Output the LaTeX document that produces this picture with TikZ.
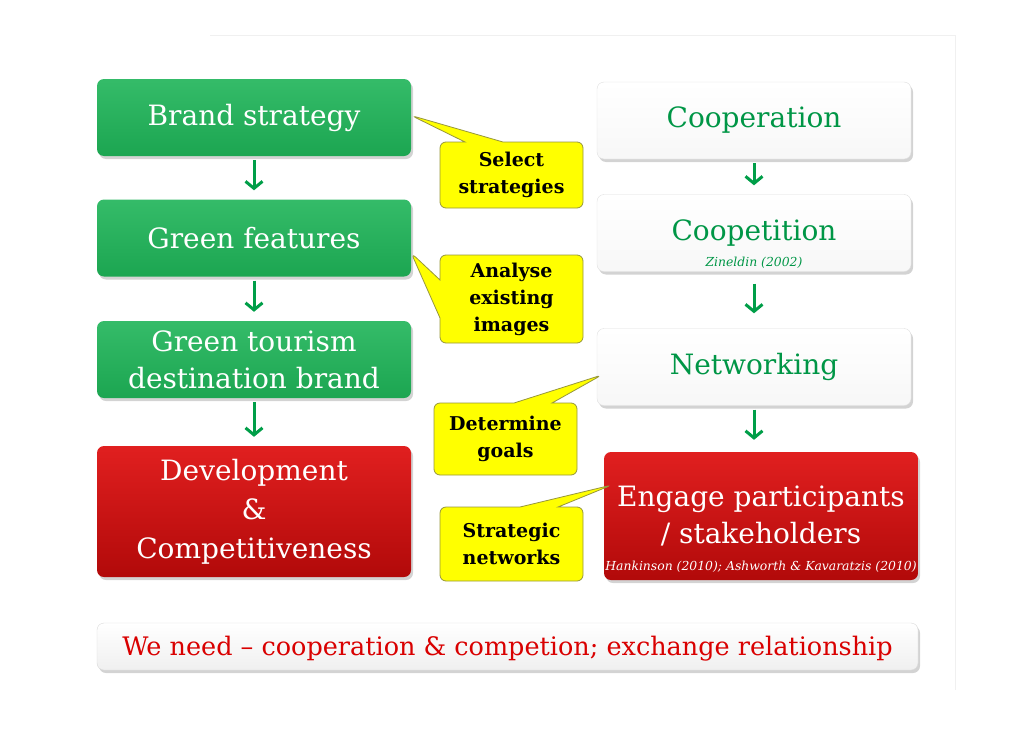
\documentclass[tikz,border=0pt]{standalone}
\usepackage{fontspec}
\setmainfont{DejaVu Serif}
\usetikzlibrary{arrows.meta,shapes.callouts,shadows,positioning}

\definecolor{boxgreen}{RGB}{30,180,88}
\definecolor{boxred}{RGB}{222,12,12}
\definecolor{arrgreen}{RGB}{0,158,72}
\definecolor{txtgreen}{RGB}{0,150,70}
\definecolor{noteyellow}{RGB}{255,255,0}
\definecolor{noteline}{RGB}{150,150,60}

\tikzset{
  stepbox/.style={rectangle, rounded corners=7pt, minimum width=314pt, minimum height=77pt,
    align=center, font=\fontsize{28}{38}\selectfont,
    drop shadow={opacity=0.35, shadow xshift=2pt, shadow yshift=-3pt}},
  greenbox/.style={stepbox, text=white, top color=boxgreen!90!white, bottom color=boxgreen!92!black},
  redbox/.style={stepbox, text=white, top color=boxred!92!white, bottom color=boxred!80!black},
  whitebox/.style={stepbox, text=txtgreen, draw=gray!25, top color=white, bottom color=gray!6},
  note/.style={rectangle callout, rounded corners=6pt, fill=noteyellow, draw=noteline, line width=0.8pt,
    minimum width=143pt, align=center, callout pointer width=38pt,
    font=\bfseries\fontsize{19}{27}\selectfont},
  flow/.style={arrgreen, line width=3pt, -{Straight Barb[length=7pt,width=17pt]},
    shorten <=4pt, shorten >=9pt},
  cite/.style={font=\itshape\fontsize{12.4}{14}\selectfont, inner sep=0pt}
}

\begin{document}
\begin{tikzpicture}[x=1pt, y=-1pt]
\useasboundingbox (0,0) rectangle (1030,728);

% slide edge
\draw[gray!12, line width=1pt] (210,35) -- (955,35) -- (955,690);

% left column
\node[greenbox] (bs) at (254,117.5) {Brand strategy};
\node[greenbox] (gf) at (254,238) {Green features};
\node[greenbox, font=\fontsize{28}{37}\selectfont] (gt) at (254,359.5) {Green tourism\\destination brand};
\node[redbox, minimum height=131pt, font=\fontsize{28}{39}\selectfont] (dc) at (254,511.5) {Development\\\&\\Competitiveness};

\draw[flow] (bs) -- (gf);
\draw[flow] (gf) -- (gt);
\draw[flow] (gt) -- (dc);

% right column
\node[whitebox] (co) at (754,120.5) {Cooperation};
\node[whitebox] (cp) at (754,233) {Coopetition};
\node[cite, text=txtgreen, above=3pt] (cpref) at (cp.south) {Zineldin (2002)};
\node[whitebox] (nw) at (754,367) {Networking};
\node[redbox, minimum height=128pt, font=\fontsize{28}{37}\selectfont] (ep) at (761,516) {Engage participants\\/ stakeholders};
\node[cite, text=white, above=8pt] (epref) at (ep.south) {Hankinson (2010); Ashworth \& Kavaratzis (2010)};

\draw[flow] (co) -- (cp);
\draw[flow, shorten <=12pt, shorten >=15pt] (cp) -- (nw);
\draw[flow, shorten >=12pt] (nw) -- (nw.south |- ep.north);

% notes
\node[note, minimum height=66pt, callout absolute pointer={([yshift=2pt]bs.east)}] (ss) at (511.5,175) {Select\\strategies};
\node[note, minimum height=88pt, callout absolute pointer={([yshift=-15pt]gf.east)}] (ae) at (511.5,299) {Analyse\\existing\\images};
\node[note, minimum height=72pt, callout absolute pointer={([xshift=5pt,yshift=-8pt]nw.west)}] (dg) at (505.5,439) {Determine\\goals};
\node[note, minimum height=74pt, callout absolute pointer={([xshift=8pt,yshift=31pt]ep.west)}] (sn) at (511.5,544) {Strategic\\networks};

% bottom line
\node[stepbox, minimum width=821pt, minimum height=47pt, draw=gray!30, top color=white, bottom color=gray!12,
  text=red!85!black, font=\fontsize{25.5}{30}\selectfont, text depth=2pt] (need) at (507.5,646.5)
  {We need -- cooperation \& competion; exchange relationship};
\end{tikzpicture}
\end{document}
